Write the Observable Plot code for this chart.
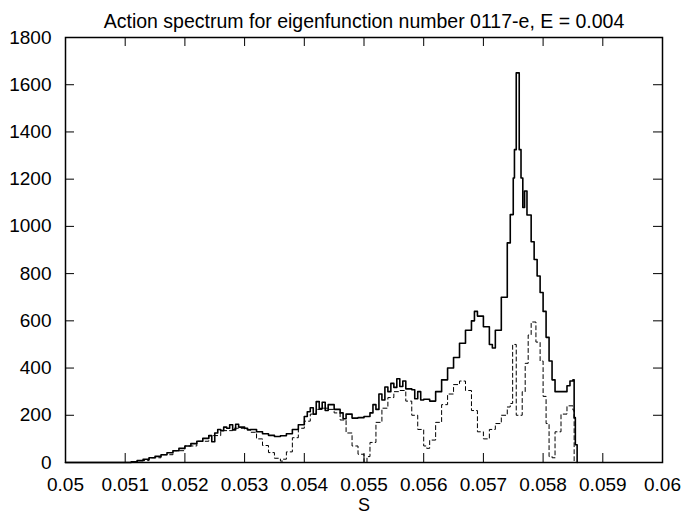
<!DOCTYPE html>
<html><head><meta charset="utf-8">
<script src="https://cdn.jsdelivr.net/npm/d3@7"></script>
<script src="https://cdn.jsdelivr.net/npm/@observablehq/plot@0.6"></script>
<style>body{margin:0;background:#fff;}</style>
</head><body><div id="chart"></div>
<script>
const titleText = "Action spectrum for eigenfunction number 0117-e, E = 0.004";
const xLabelText = "S";
const xTicks = [0.05, 0.051, 0.052, 0.053, 0.054, 0.055, 0.056, 0.057, 0.058, 0.059, 0.06];
const xTickLabels = ["0.05", "0.051", "0.052", "0.053", "0.054", "0.055", "0.056", "0.057", "0.058", "0.059", "0.06"];
const yTicks = [0, 200, 400, 600, 800, 1000, 1200, 1400, 1600, 1800];
const yTickLabels = ["0", "200", "400", "600", "800", "1000", "1200", "1400", "1600", "1800"];

const solidS = [0.0500, 0.0510, 0.0511, 0.0512, 0.0513, 0.0514, 0.0515, 0.0516, 0.0517, 0.0518, 0.0519,
  0.0520, 0.0521, 0.0522, 0.0523, 0.0524, 0.05245, 0.0525, 0.05255, 0.0526, 0.05265, 0.0527, 0.05275, 0.0528, 0.05285, 0.0529,
  0.0530, 0.05305, 0.0531, 0.0532, 0.0533, 0.0534, 0.0535, 0.0536, 0.0537, 0.0538, 0.0539,
  0.0540, 0.05405, 0.0541, 0.05415, 0.0542, 0.05425, 0.0543, 0.05435, 0.0544, 0.0545, 0.0546, 0.05465, 0.0547, 0.0548, 0.0549,
  0.0550, 0.0551, 0.05515, 0.0552, 0.05525, 0.0553, 0.05535, 0.0554, 0.05545, 0.0555, 0.05555, 0.0556, 0.05565, 0.0557, 0.0558, 0.05585, 0.0559, 0.05595,
  0.0560, 0.0561, 0.0562, 0.0563, 0.0564, 0.0565, 0.0566, 0.0567, 0.0568, 0.05685, 0.0569,
  0.0570, 0.0571, 0.05715, 0.0572, 0.0573, 0.0574, 0.05745, 0.0575, 0.05752, 0.05755, 0.0576, 0.05763, 0.05766, 0.05769, 0.05773, 0.0578, 0.05785, 0.0579, 0.05795,
  0.0580, 0.05805, 0.0581, 0.05815, 0.0582, 0.0583, 0.0584, 0.05845, 0.0585, 0.05852, 0.05854, 0.05857];
const solidV = [0, 0, 3, 8, 14, 20, 26, 33, 41, 50, 60,
  70, 80, 90, 102, 114, 88, 125, 140, 135, 150, 145, 160, 138, 162, 150,
  145, 138, 140, 130, 122, 115, 110, 113, 122, 140, 160,
  195, 215, 232, 205, 258, 228, 255, 220, 245, 225, 210, 185, 205, 188, 190,
  195, 210, 245, 225, 290, 265, 320, 300, 335, 318, 355, 322, 345, 312, 308, 270, 300, 265,
  268, 260, 300, 350, 400, 445, 505, 560, 600, 640, 620,
  575, 500, 485, 560, 700, 930, 1050, 1205, 1325, 1650, 1325, 1205, 1080, 1150, 1048, 935, 860, 790, 720,
  640, 530, 430, 350, 300, 300, 325, 345, 350, 190, 75, 0];

const dashedS = [0.0500, 0.0510, 0.0512, 0.0514, 0.0516, 0.0518, 0.0520, 0.0522, 0.0524, 0.0526, 0.0528,
  0.0530, 0.0531, 0.0532, 0.0533, 0.0534, 0.0535, 0.0536, 0.05365, 0.0537, 0.0538, 0.0539,
  0.0540, 0.0541, 0.0542, 0.0543, 0.0544, 0.0545, 0.0546, 0.0547, 0.0548, 0.0549,
  0.0550, 0.05505, 0.0551, 0.0552, 0.0553, 0.0554, 0.0555, 0.0556, 0.0557, 0.0558, 0.0559,
  0.0560, 0.05605, 0.0561, 0.0562, 0.0563, 0.0564, 0.0565, 0.0566, 0.0567, 0.0568, 0.0569,
  0.0570, 0.0571, 0.0572, 0.0573, 0.0574, 0.05745, 0.05749, 0.05755, 0.05765, 0.0577, 0.05775, 0.0578, 0.05788, 0.05795,
  0.0580, 0.05805, 0.0581, 0.05815, 0.0582, 0.0583, 0.0584, 0.0585, 0.05852];
const dashedV = [0, 0, 8, 20, 33, 50, 70, 90, 114, 135, 145,
  140, 128, 100, 72, 42, 18, 6, 14, 45, 105, 145,
  175, 205, 225, 230, 225, 210, 180, 125, 70, 35,
  0, 25, 85, 170, 230, 275, 300, 305, 260, 200, 140,
  70, 60, 95, 170, 245, 290, 330, 345, 305, 220, 130,
  100, 140, 165, 200, 235, 250, 500, 200, 300, 420, 540, 595, 510, 430,
  280, 165, 25, 20, 130, 205, 240, 222, 0];

const solid = solidS.map((s, i) => ({S: s, v: solidV[i]}));
const dashed = dashedS.map((s, i) => ({S: s, v: dashedV[i]}));

const W = 682, H = 515, mT = 37, mB = 53, mL = 65, mR = 20;
const frameH = H - mT - mB, frameW = W - mL - mR, tick = 9;
const font = "'Liberation Sans', Arial, Helvetica, sans-serif";

const chart = Plot.plot({
  width: W, height: H, marginTop: mT, marginBottom: mB, marginLeft: mL, marginRight: mR,
  style: {fontFamily: font, fontSize: "19px", background: "white", color: "black"},
  x: {domain: [0.05, 0.06]},
  y: {domain: [0, 1800]},
  marks: [
    Plot.tickX(xTicks, {x: d => d, insetTop: frameH - tick, stroke: "black", strokeWidth: 1}),
    Plot.tickX(xTicks, {x: d => d, insetBottom: frameH - tick, stroke: "black", strokeWidth: 1}),
    Plot.tickY(yTicks, {y: d => d, insetRight: frameW - tick, stroke: "black", strokeWidth: 1}),
    Plot.tickY(yTicks, {y: d => d, insetLeft: frameW - tick, stroke: "black", strokeWidth: 1}),
    Plot.axisX({ticks: xTicks, tickSize: 0, tickPadding: 15, fontSize: 19,
      tickFormat: d => xTickLabels[xTicks.indexOf(d)], label: null}),
    Plot.axisY({ticks: yTicks, tickSize: 0, tickPadding: 14, fontSize: 19,
      tickFormat: d => yTickLabels[yTicks.indexOf(d)], label: null}),
    Plot.line(dashed, {x: "S", y: "v", curve: "step-after", stroke: "black", strokeWidth: 1, strokeDasharray: "4,3"}),
    Plot.line(solid, {x: "S", y: "v", curve: "step-after", stroke: "black", strokeWidth: 1.6}),
    Plot.frame({stroke: "black", strokeWidth: 1.5}),
    Plot.text([titleText], {frameAnchor: "top", dy: -23, fontSize: 19.5}),
    Plot.text([xLabelText], {frameAnchor: "bottom", lineAnchor: "bottom", dy: 48, fontSize: 18})
  ]
});
document.getElementById("chart").appendChild(chart);
</script>
</body></html>
